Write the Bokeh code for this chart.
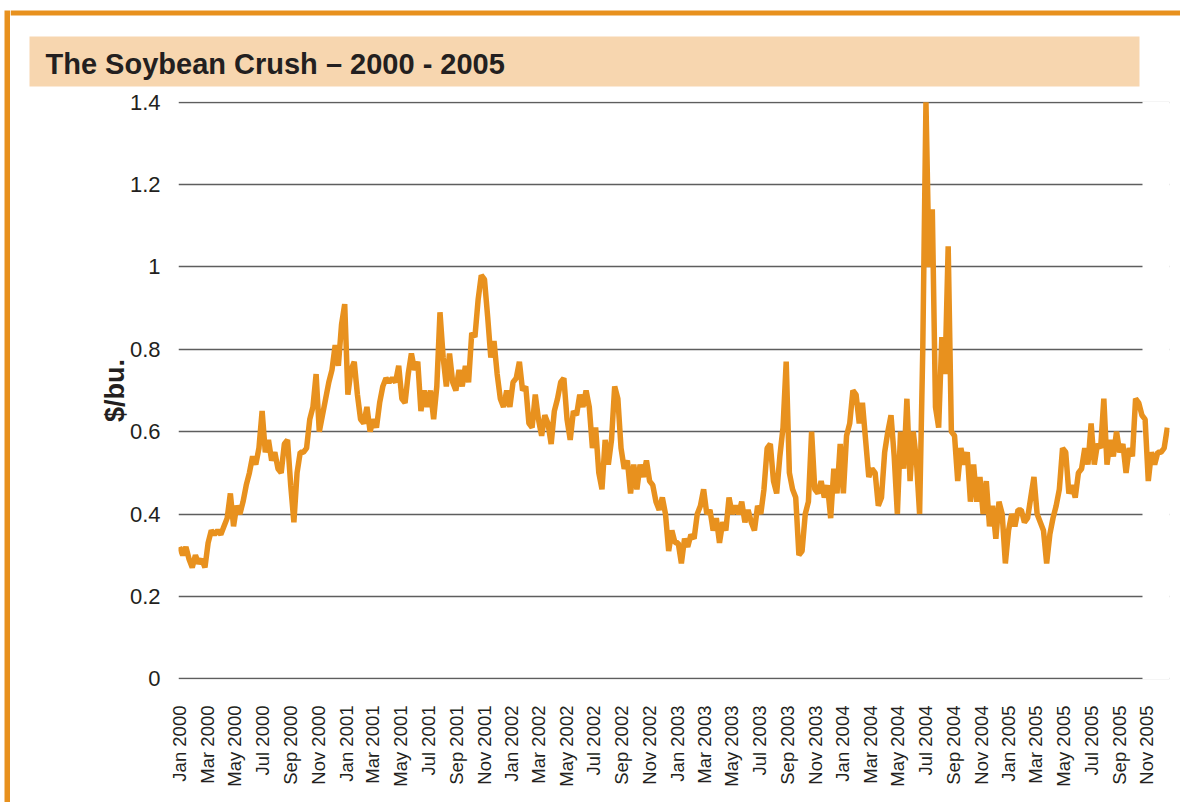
import math
import pandas as pd
from bokeh.plotting import figure
from bokeh.layouts import row, column
from bokeh.models import (Range1d, FixedTicker, DatetimeTickFormatter, NumeralTickFormatter,
                          BoxAnnotation, Label, ColumnDataSource)
from bokeh.embed import file_html
from bokeh.resources import INLINE

# ---------------- data ----------------
title_text = "The Soybean Crush \u2013 2000 - 2005"
y_label = "$/bu."
start_date = "1999-12-31"   # weekly observations
crush = [
    # 2000
    0.32, 0.30, 0.32, 0.29, 0.27, 0.30, 0.28, 0.29, 0.27, 0.33,
    0.36, 0.35, 0.36, 0.35, 0.37, 0.39, 0.45, 0.37, 0.42, 0.40,
    0.43, 0.47, 0.50, 0.54, 0.52, 0.56, 0.65, 0.55, 0.58, 0.53,
    0.55, 0.51, 0.50, 0.57, 0.58, 0.47, 0.38, 0.50, 0.55, 0.55,
    0.56, 0.63, 0.66, 0.74, 0.60, 0.64, 0.68, 0.72, 0.75, 0.81,
    0.76,
    # 2001
    0.86, 0.91, 0.69, 0.75, 0.77, 0.69, 0.63, 0.62, 0.66, 0.60,
    0.63, 0.61, 0.67, 0.71, 0.73, 0.72, 0.73, 0.72, 0.76, 0.68,
    0.67, 0.74, 0.79, 0.75, 0.77, 0.65, 0.70, 0.66, 0.70, 0.63,
    0.71, 0.89, 0.78, 0.71, 0.79, 0.72, 0.70, 0.75, 0.71, 0.76,
    0.72, 0.84, 0.83, 0.92, 0.98, 0.97, 0.88, 0.78, 0.82, 0.74,
    0.68, 0.66,
    # 2002
    0.70, 0.66, 0.72, 0.73, 0.77, 0.70, 0.71, 0.62, 0.61, 0.69,
    0.63, 0.59, 0.64, 0.62, 0.57, 0.65, 0.68, 0.72, 0.73, 0.63,
    0.58, 0.65, 0.64, 0.69, 0.66, 0.70, 0.66, 0.56, 0.61, 0.50,
    0.46, 0.58, 0.52, 0.58, 0.71, 0.68, 0.56, 0.51, 0.53, 0.45,
    0.52, 0.46, 0.52, 0.49, 0.53, 0.48, 0.47, 0.43, 0.41, 0.44,
    0.40, 0.31,
    # 2003
    0.36, 0.33, 0.33, 0.28, 0.34, 0.32, 0.35, 0.34, 0.40, 0.42,
    0.46, 0.40, 0.41, 0.36, 0.39, 0.33, 0.38, 0.36, 0.44, 0.40,
    0.42, 0.40, 0.43, 0.38, 0.41, 0.38, 0.36, 0.42, 0.40, 0.46,
    0.56, 0.57, 0.48, 0.45, 0.54, 0.61, 0.77, 0.50, 0.46, 0.44,
    0.30, 0.31, 0.40, 0.43, 0.60, 0.46, 0.45, 0.48, 0.44, 0.47,
    0.39, 0.51,
    # 2004
    0.45, 0.57, 0.45, 0.59, 0.62, 0.70, 0.69, 0.62, 0.67, 0.58,
    0.49, 0.51, 0.50, 0.42, 0.44, 0.55, 0.60, 0.64, 0.54, 0.40,
    0.60, 0.51, 0.68, 0.48, 0.60, 0.53, 0.40, 0.80, 1.40, 1.00,
    1.14, 0.66, 0.61, 0.83, 0.74, 1.05, 0.60, 0.59, 0.48, 0.56,
    0.52, 0.55, 0.43, 0.52, 0.43, 0.49, 0.40, 0.48, 0.37, 0.42,
    0.34, 0.43,
    # 2005
    0.40, 0.28, 0.36, 0.40, 0.37, 0.41, 0.41, 0.38, 0.39, 0.44,
    0.49, 0.40, 0.38, 0.36, 0.28, 0.35, 0.39, 0.42, 0.46, 0.56,
    0.55, 0.45, 0.47, 0.44, 0.50, 0.51, 0.56, 0.52, 0.62, 0.52,
    0.57, 0.56, 0.68, 0.52, 0.58, 0.54, 0.60, 0.55, 0.57, 0.50,
    0.56, 0.54, 0.68, 0.67, 0.64, 0.63, 0.48, 0.55, 0.52, 0.55,
    0.55, 0.56, 0.61,
]
tick_years = [2000, 2001, 2002, 2003, 2004, 2005]
tick_months = [1, 3, 5, 7, 9, 11]
y_ticks = [0, 0.2, 0.4, 0.6, 0.8, 1.0, 1.2, 1.4]

# ---------------- styling ----------------
ORANGE = "#E8911E"
PEACH = "#F7D6AF"
TEXT = "#231F20"
GRID = "#5E5E5E"
FONT = "Liberation Sans"


def no_align(fig):
    try:
        fig.frame_align = False
    except AttributeError:
        pass


# ---------- left orange rule (its own small figure) ----------
strip = figure(width=10, height=802, output_backend="svg", toolbar_location=None,
               title=None, x_axis_location=None, y_axis_location=None,
               min_border_left=4, min_border_right=0, min_border_top=10, min_border_bottom=0,
               x_range=Range1d(0, 1), y_range=Range1d(0, 1))
strip.grid.visible = False
strip.outline_line_color = None
strip.background_fill_color = ORANGE
strip.border_fill_color = "white"
no_align(strip)

# ---------- title banner ----------
banner = figure(width=1170, height=90, output_backend="svg", toolbar_location=None,
                title=None, x_axis_location=None, y_axis_location=None,
                min_border_left=0, min_border_right=0, min_border_top=0, min_border_bottom=0,
                x_range=Range1d(0, 1), y_range=Range1d(0, 1))
banner.grid.visible = False
banner.outline_line_color = None
banner.background_fill_color = "white"
banner.border_fill_color = "white"
no_align(banner)
banner.add_layout(BoxAnnotation(left=0, right=1200, bottom=75, top=80,
                                left_units="screen", right_units="screen",
                                bottom_units="screen", top_units="screen",
                                fill_color=ORANGE, fill_alpha=1.0, line_color=None))
banner.add_layout(BoxAnnotation(left=19, right=1129, bottom=4, top=54,
                                left_units="screen", right_units="screen",
                                bottom_units="screen", top_units="screen",
                                fill_color=PEACH, fill_alpha=1.0, line_color=None))
banner.add_layout(Label(x=35, y=26.5, x_units="screen", y_units="screen",
                        text=title_text, text_font=FONT, text_font_size="29px",
                        text_font_style="bold", text_color=TEXT,
                        text_align="left", text_baseline="alphabetic"))

# ---------- main chart ----------
dates = pd.date_range(start_date, periods=len(crush), freq="7D")
src = ColumnDataSource(dict(date=dates, crush=crush))

x_ticks = [pd.Timestamp(year=yy, month=mm, day=1).value // 10**6
           for yy in tick_years for mm in tick_months]

p = figure(width=1170, height=712, x_axis_type="datetime",
           output_backend="svg", toolbar_location=None, title=None,
           min_border_left=168, min_border_right=11,
           min_border_top=11, min_border_bottom=123,
           x_range=Range1d(pd.Timestamp("1999-12-28 17:00"), pd.Timestamp("2005-12-20 18:00")),
           y_range=Range1d(-0.002, 1.402))
p.outline_line_color = None
p.background_fill_color = "white"
p.border_fill_color = "white"
no_align(p)

p.xgrid.visible = False
p.ygrid.grid_line_color = GRID
p.ygrid.grid_line_width = 1.4

p.yaxis.ticker = FixedTicker(ticks=y_ticks)
p.yaxis.formatter = NumeralTickFormatter(format="0.[0]")
p.yaxis.axis_line_color = None
p.yaxis.major_tick_line_color = None
p.yaxis.minor_tick_line_color = None
p.yaxis.major_label_standoff = 12
p.yaxis.major_label_text_font = FONT
p.yaxis.major_label_text_font_size = "22px"
p.yaxis.major_label_text_color = TEXT
p.yaxis.axis_label = y_label
p.yaxis.axis_label_text_font = FONT
p.yaxis.axis_label_text_font_size = "27px"
p.yaxis.axis_label_text_font_style = "bold"
p.yaxis.axis_label_text_color = TEXT
p.yaxis.axis_label_standoff = -3

fmt = "%b %Y"
p.xaxis.ticker = FixedTicker(ticks=x_ticks)
p.xaxis.formatter = DatetimeTickFormatter(
    microseconds=fmt, milliseconds=fmt, seconds=fmt, minsec=fmt, minutes=fmt,
    hourmin=fmt, hours=fmt, days=fmt, months=fmt, years=fmt)
p.xaxis.major_label_orientation = math.pi / 2
p.xaxis.axis_line_color = None
p.xaxis.major_tick_line_color = None
p.xaxis.minor_tick_line_color = None
p.xaxis.major_label_standoff = 20
p.xaxis.major_label_text_font = FONT
p.xaxis.major_label_text_font_size = "18.5px"
p.xaxis.major_label_text_color = TEXT

# the original plot area (and its grid lines) stops short of the last weeks
p.add_layout(BoxAnnotation(left=964, right=1200, bottom=-4, top=582,
                           left_units="screen", right_units="screen",
                           bottom_units="screen", top_units="screen",
                           fill_color="white", fill_alpha=1.0, line_color=None,
                           level="underlay"))

p.line("date", "crush", source=src, line_color=ORANGE, line_width=5.5,
       line_join="bevel")

layout = row(strip, column(banner, p, spacing=0), spacing=0)
open("out.html", "w").write(file_html(layout, INLINE))
